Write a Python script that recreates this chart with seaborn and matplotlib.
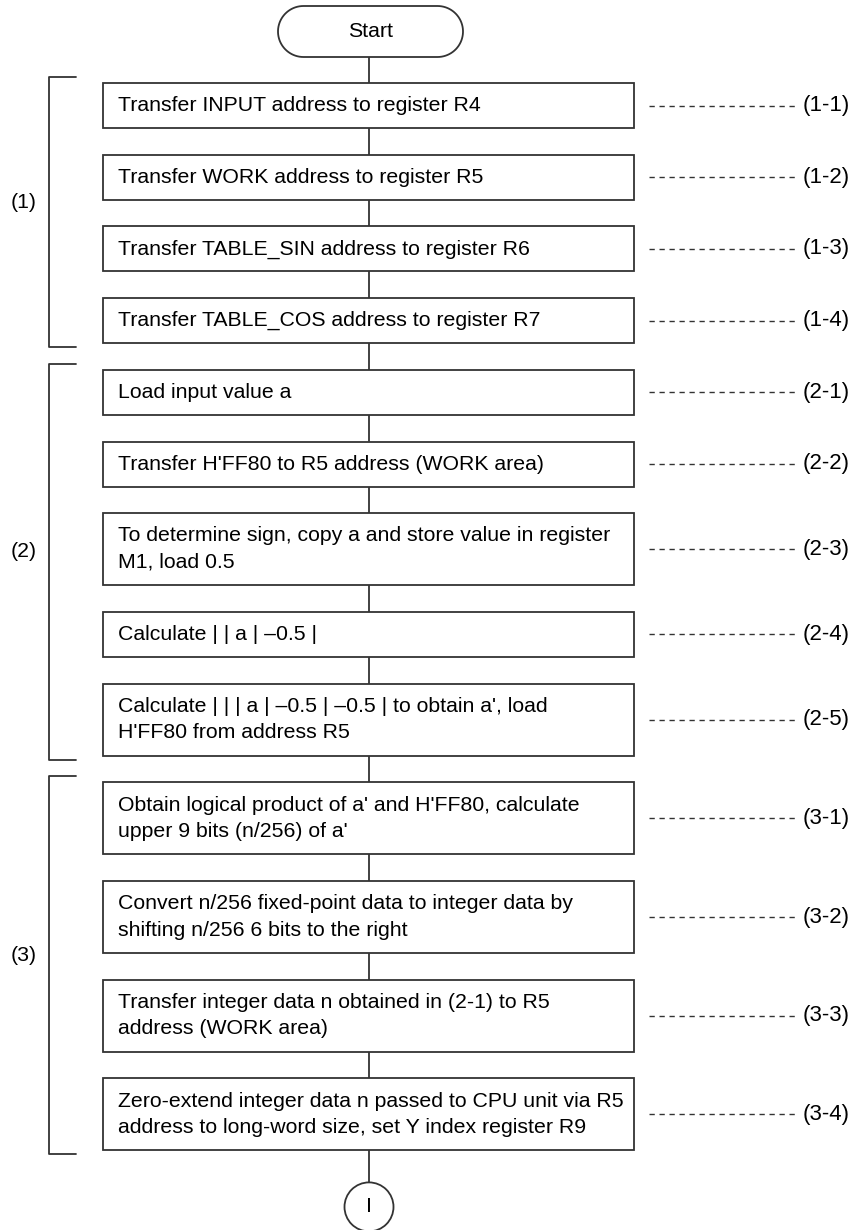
"""
Flowchart: sine/cosine table lookup setup (steps 1-1 .. 3-4)
"""

import numpy as np
import matplotlib.pyplot as plt
from matplotlib.patches import Rectangle, Circle, Polygon
import seaborn as sns

sns.set_theme(style="white")
plt.rcParams["font.family"] = ["Liberation Sans", "DejaVu Sans"]

# ── Data ──────────────────────────────────────────────────
step_texts = [
    "Transfer INPUT address to register R4",
    "Transfer WORK address to register R5",
    "Transfer TABLE_SIN address to register R6",
    "Transfer TABLE_COS address to register R7",
    "Load input value a",
    "Transfer H'FF80 to R5 address (WORK area)",
    "To determine sign, copy a and store value in register\nM1, load 0.5",
    "Calculate | | a | \u20130.5 |",
    "Calculate | | | a | \u20130.5 | \u20130.5 | to obtain a', load\nH'FF80 from address R5",
    "Obtain logical product of a' and H'FF80, calculate\nupper 9 bits (n/256) of a'",
    "Convert n/256 fixed-point data to integer data by\nshifting n/256 6 bits to the right",
    "Transfer integer data n obtained in (2-1) to R5\naddress (WORK area)",
    "Zero-extend integer data n passed to CPU unit via R5\naddress to long-word size, set Y index register R9",
]
step_labels = ["(1-1)", "(1-2)", "(1-3)", "(1-4)",
               "(2-1)", "(2-2)", "(2-3)", "(2-4)", "(2-5)",
               "(3-1)", "(3-2)", "(3-3)", "(3-4)"]
group_labels = ["(1)", "(2)", "(3)"]
group_first = [0, 4, 9]
group_last = [3, 8, 12]
start_text = "Start"
connector_text = "I"

# ── Layout (pixels) ───────────────────────────────────────
W, H = 865, 1230
cx = 369
box_left, box_right = 103, 634
first_top = 83
gap = 26.7
single_h, double_h = 45, 72
line_col = "#333333"
fs = 15.3

fig = plt.figure(figsize=(W / 100, H / 100), dpi=100)
ax = fig.add_axes([0, 0, 1, 1])
ax.set_xlim(0, W)
ax.set_ylim(H, 0)
ax.axis("off")

# Start terminal (stadium shape)
s_left, s_right, s_top, s_h = 278, 463, 6, 51
rad = s_h / 2
t = np.linspace(-np.pi / 2, np.pi / 2, 40)
right_arc = np.c_[s_right - rad + rad * np.cos(t), s_top + rad + rad * np.sin(t)]
left_arc = np.c_[s_left + rad - rad * np.cos(t), s_top + rad - rad * np.sin(t)]
ax.add_patch(Polygon(np.vstack([right_arc, left_arc]), closed=True,
                     fc="white", ec=line_col, lw=1.3, zorder=3))
ax.text((s_left + s_right) / 2, s_top + rad, start_text, ha="center",
        va="center", fontsize=fs, color="black", zorder=4)

# Process boxes
tops, bottoms = [], []
y = first_top
prev_bottom = s_top + s_h
for txt, lab in zip(step_texts, step_labels):
    h = double_h if "\n" in txt else single_h
    ax.plot([cx, cx], [prev_bottom, y], color=line_col, lw=1.3, zorder=1)
    ax.add_patch(Rectangle((box_left, y), box_right - box_left, h,
                           fc="white", ec=line_col, lw=1.3, zorder=3))
    mid = y + h / 2
    ax.text(box_left + 15, mid, txt, ha="left", va="center", fontsize=fs,
            linespacing=1.5, color="black", zorder=4)
    ax.plot([649, 798], [mid, mid], color=line_col, lw=1.0,
            dashes=(3.8, 3.4), zorder=2)
    ax.text(803, mid, lab, ha="left", va="center", fontsize=16,
            color="black")
    tops.append(y)
    bottoms.append(y + h)
    prev_bottom = y + h
    y = y + h + gap

# Off-page connector
r = 24.5
cy = bottoms[-1] + 32 + r
ax.plot([cx, cx], [bottoms[-1], cy - r], color=line_col, lw=1.3, zorder=1)
ax.add_patch(Circle((cx, cy), r, fc="white", ec=line_col, lw=1.3, zorder=3))
ax.text(cx, cy, connector_text, ha="center", va="center", fontsize=fs,
        color="black", zorder=4)

# Group brackets
for lab, i0, i1 in zip(group_labels, group_first, group_last):
    y0 = tops[i0] - 6
    y1 = bottoms[i1] + 4
    ax.plot([76, 49, 49, 76], [y0, y0, y1, y1], color=line_col, lw=1.3)
    ax.text(24, (y0 + y1) / 2 - 10, lab, ha="center", va="center",
            fontsize=fs, color="black")

plt.savefig("out.png", dpi=100)
